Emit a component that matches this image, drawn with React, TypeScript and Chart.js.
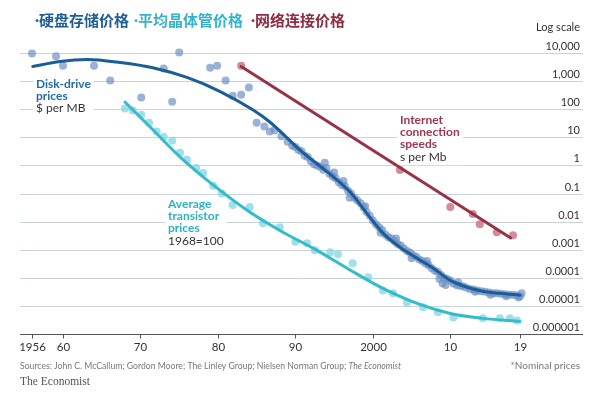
import { useEffect, useRef } from "react";
import { Chart, registerables } from "chart.js";
Chart.register(...registerables);

// ---------- DATA ----------
// Disk-drive prices, $ per MB (year, value)
const diskDots: [number, number][] = [
  [1956.0, 9600], [1959.1, 7600], [1960.0, 3550], [1964.0, 3550], [1966.1, 1050],
  [1970.1, 260], [1973.0, 2800], [1974.1, 185], [1975.0, 10500], [1979.0, 3000],
  [1979.9, 3550], [1981.0, 1050], [1981.9, 300], [1983.0, 330], [1984.0, 590],
  [1985.0, 33], [1986.0, 24], [1986.7, 16], [1987.3, 18], [1988.2, 11],
  [1989.0, 7], [1989.6, 5], [1990.0, 4.5], [1990.4, 3.5], [1990.8, 3.2],
  [1991.2, 2.2], [1991.6, 2], [1992.0, 1.4], [1992.4, 1.1], [1992.8, 1],
  [1993.2, 0.9], [1993.6, 0.7], [1994.0, 0.8], [1994.4, 0.5], [1994.8, 0.4],
  [1995.2, 0.35], [1995.6, 0.25], [1996.0, 0.2], [1996.4, 0.18], [1996.8, 0.125],
  [1997.2, 0.1], [1997.6, 0.07], [1998.0, 0.056], [1998.4, 0.045], [1998.8, 0.032],
  [1999.2, 0.022], [1999.6, 0.016], [2000.0, 0.011], [2000.4, 0.008], [2000.8, 0.0063],
  [2001.2, 0.005], [2001.6, 0.0035], [2002.0, 0.0028], [2002.4, 0.0025], [2002.8, 0.002],
  [2003.2, 0.0016], [2003.6, 0.0014], [2004.0, 0.0011], [2004.4, 0.0009], [2004.8, 0.0008],
  [2005.2, 0.00063], [2005.6, 0.00056], [2006.0, 0.00045], [2006.4, 0.0004], [2006.8, 0.00032],
  [2007.2, 0.00028], [2007.6, 0.00022], [2008.0, 0.00018], [2008.4, 0.00016], [2008.8, 0.000125],
  [2009.2, 0.0001], [2009.6, 0.00009], [2010.0, 0.00008], [2010.4, 0.000063], [2010.8, 0.000056],
  [2011.2, 0.000052], [2011.6, 0.00005], [2012.0, 0.000045], [2012.5, 0.00004], [2013.0, 0.000038],
  [2013.5, 0.000035], [2014.0, 0.000033], [2014.5, 0.000032], [2015.0, 0.00003], [2015.5, 0.000028],
  [2016.0, 0.000028], [2016.5, 0.000027], [2017.0, 0.000026], [2017.5, 0.000025], [2018.0, 0.000025],
  [2018.5, 0.000024], [2019.0, 0.000022],
  [1993.8, 1.25], [1995.0, 0.56], [1996.2, 0.28], [1997.0, 0.07], [1999.0, 0.035],
  [2001.0, 0.004], [2003.0, 0.0025], [2005.0, 0.0005], [2007.0, 0.0004], [2008.6, 0.00009],
  [2009.0, 0.000063], [2009.4, 0.000056], [2011.0, 0.00007], [2013.2, 0.000032], [2015.2, 0.000025],
  [2017.2, 0.000022], [2018.8, 0.00002], [2019.2, 0.000028],
];
const diskTrend: [number, number][] = [
  [1956.1, 3300], [1959.6, 5000], [1963.1, 5900], [1967.4, 4600], [1971.6, 3000],
  [1976.0, 1350], [1980.3, 425], [1984.5, 95], [1986.7, 35], [1990.6, 3.5],
  [1994.9, 0.39], [1997.1, 0.11], [1999.2, 0.02], [2001.3, 0.0039], [2003.5, 0.00123],
  [2005.7, 0.0005], [2007.8, 0.00022], [2010.0, 0.000081], [2012.2, 0.000046], [2014.2, 0.000033],
  [2016.4, 0.000028], [2019.0, 0.000024],
];

// Average transistor prices, 1968=100
const transistorDots: [number, number][] = [
  [1968.0, 105], [1969.0, 89], [1970.1, 63], [1971.1, 33], [1972.1, 16],
  [1973.0, 10.5], [1974.1, 7.6], [1975.1, 2.8], [1976.0, 1.6], [1977.2, 0.81],
  [1978.1, 0.54], [1979.4, 0.19], [1980.5, 0.1], [1981.9, 0.039], [1984.1, 0.033],
  [1985.8, 0.0087], [1988.0, 0.0063], [1990.0, 0.0019], [1991.5, 0.0017], [1992.5, 0.00095],
  [1994.5, 0.00081], [1995.5, 0.00069], [1997.4, 0.00033], [1999.4, 0.000105], [2001.3, 0.0000355],
  [2002.6, 0.000028], [2004.4, 0.0000132], [2006.5, 0.0000089], [2008.4, 0.0000059], [2010.4, 0.0000039],
  [2014.2, 0.0000036], [2016.4, 0.0000036], [2017.7, 0.0000036], [2018.6, 0.000003],
];
const transistorTrend: [number, number][] = [
  [1968.0, 180], [1971.6, 18.6], [1975.1, 2.0], [1978.6, 0.3], [1984.1, 0.022],
  [1988.4, 0.0042], [1992.8, 0.00095], [1997.1, 0.000186], [2001.3, 0.000042], [2005.7, 0.0000123],
  [2010.0, 0.0000054], [2014.2, 0.0000036], [2019.0, 0.0000028],
];

// Internet connection speeds, s per Mb
const internetDots: [number, number][] = [
  [1983.0, 3550], [2003.5, 0.69], [2010.0, 0.033], [2012.9, 0.0186], [2013.8, 0.0081],
  [2016.0, 0.0042], [2018.1, 0.0033],
];
const internetTrend: [number, number][] = [
  [1983.0, 3300], [2017.8, 0.0026],
];

// Axis ticks
const xTickYears = [1956, 1960, 1970, 1980, 1990, 2000, 2010, 2019];
const xTickLabels = ["1956", "60", "70", "80", "90", "2000", "10", "19"];
const yTickValues = [10000, 1000, 100, 10, 1, 0.1, 0.01, 0.001, 0.0001, 0.00001, 0.000001];
const yTickLabels = ["10,000", "1,000", "100", "10", "1", "0.1", "0.01", "0.001", "0.0001", "0.00001", "0.000001"];

const titleParts = ["硬盘存储价格", "平均晶体管价格", "网络连接价格"];
const sourceText = "Sources: John C. McCallum; Gordon Moore; The Linley Group; Nielsen Norman Group; ";
const sourceItalic = "The Economist";

// ---------- STYLE ----------
const SANS = '"Lato", "Noto Sans", sans-serif';
const DISK_LINE = "#1a5d97";
const DISK_DOT = "rgba(108, 142, 196, 0.68)";
const DISK_TEXT = "#1f6dab";
const TR_LINE = "#34bccd";
const TR_DOT = "rgba(130, 212, 226, 0.75)";
const TR_TEXT = "#2eb2c6";
const NET_LINE = "#983247";
const NET_DOT = "rgba(200, 110, 128, 0.8)";
const NET_TEXT = "#a0384e";
const GRID = "#c8d3dc";

const X_MIN = 1954.45;
const X_MAX = 2027.13;

type Block = { x: number; y: number; lines: string[]; sub: string; color: string };
const blocks: Block[] = [
  { x: 36, y: 84, lines: ["Disk-drive", "prices"], sub: "$ per MB", color: DISK_TEXT },
  { x: 168, y: 204, lines: ["Average", "transistor", "prices"], sub: "1968=100", color: TR_TEXT },
  { x: 400, y: 120, lines: ["Internet", "connection", "speeds"], sub: "s per Mb", color: NET_TEXT },
];
const LH = 12.3;

const decor = {
  id: "decor",
  beforeDatasetsDraw(chart: any) {
    const { ctx, chartArea: a, scales } = chart;
    const y = scales.y;
    ctx.save();
    ctx.strokeStyle = GRID;
    ctx.lineWidth = 1;
    yTickValues.forEach((v) => {
      if (v === 0.000001) return;
      const py = Math.round(y.getPixelForValue(v)) + 0.5;
      ctx.beginPath();
      ctx.moveTo(a.left, py);
      ctx.lineTo(a.right, py);
      ctx.stroke();
    });
    // label backgrounds
    ctx.fillStyle = "#ffffff";
    blocks.forEach((b) => {
      ctx.font = `bold 12px ${SANS}`;
      let w = 0;
      b.lines.forEach((l) => (w = Math.max(w, ctx.measureText(l).width)));
      ctx.font = `12px ${SANS}`;
      w = Math.max(w, ctx.measureText(b.sub).width);
      const h = LH * (b.lines.length + 1);
      ctx.fillRect(b.x - 3, b.y - 8, w + 6, h + 4);
    });
    ctx.restore();
  },
  afterDatasetsDraw(chart: any) {
    const { ctx, chartArea: a, scales } = chart;
    const x = scales.x;
    const y = scales.y;
    ctx.save();
    // x axis line
    const base = Math.round(y.getPixelForValue(0.000001)) + 0.5;
    ctx.strokeStyle = "#555";
    ctx.lineWidth = 1;
    ctx.beginPath();
    ctx.moveTo(a.left, base);
    ctx.lineTo(a.right, base);
    ctx.stroke();
    ctx.fillStyle = "#333";
    ctx.font = `11.5px ${SANS}`;
    ctx.textAlign = "center";
    ctx.textBaseline = "middle";
    xTickYears.forEach((yr, i) => {
      const px = Math.round(x.getPixelForValue(yr)) + 0.5;
      ctx.beginPath();
      ctx.moveTo(px, base);
      ctx.lineTo(px, base + 4);
      ctx.stroke();
      ctx.fillText(xTickLabels[i], px, base + 13);
    });
    // y labels (right, above gridlines)
    ctx.textAlign = "right";
    ctx.textBaseline = "alphabetic";
    ctx.font = `11px ${SANS}`;
    yTickValues.forEach((v, i) => {
      const py = Math.round(y.getPixelForValue(v));
      ctx.fillText(yTickLabels[i], a.right - 3, py - 3);
    });
    ctx.fillText("Log scale", a.right - 3, 31);

    // annotation blocks
    ctx.textAlign = "left";
    ctx.textBaseline = "middle";
    blocks.forEach((b) => {
      ctx.fillStyle = b.color;
      ctx.font = `bold 12px ${SANS}`;
      b.lines.forEach((l, i) => ctx.fillText(l, b.x, b.y + i * LH));
      ctx.fillStyle = "#333";
      ctx.font = `12px ${SANS}`;
      ctx.fillText(b.sub, b.x, b.y + b.lines.length * LH);
    });

    // title
    ctx.textBaseline = "middle";
    const titleColors = ["#1d5e98", "#33b4ca", "#8f2c41"];
    const titleX = [35, 134, 251];
    titleParts.forEach((t, i) => {
      ctx.fillStyle = titleColors[i];
      ctx.font = `bold 15px ${SANS}`;
      ctx.fillText("·", titleX[i], 20);
      ctx.font = `bold 15px "Noto Sans CJK SC", sans-serif`;
      ctx.fillText(t, titleX[i] + 4, 20);
    });

    // sources
    ctx.fillStyle = "#777";
    ctx.font = `10px ${SANS}`;
    const w1 = ctx.measureText(sourceText).width;
    ctx.font = `italic 10px ${SANS}`;
    const w2 = ctx.measureText(sourceItalic).width;
    const sc = Math.min(1, 381 / (w1 + w2));
    ctx.save();
    ctx.translate(20, 366);
    ctx.scale(sc, 1);
    ctx.font = `10px ${SANS}`;
    ctx.fillText(sourceText, 0, 0);
    ctx.font = `italic 10px ${SANS}`;
    ctx.fillText(sourceItalic, w1, 0);
    ctx.restore();
    ctx.font = `10px ${SANS}`;
    ctx.textAlign = "right";
    ctx.fillText("*Nominal prices", 580, 366);
    ctx.textAlign = "left";
    ctx.fillStyle = "#555";
    ctx.font = `11.5px "Liberation Serif", "DejaVu Serif", serif`;
    ctx.fillText("The Economist", 20, 382);
    ctx.restore();
  },
};

const toXY = (arr: [number, number][]) => arr.map(([x, y]) => ({ x, y }));

export default function App() {
  const ref = useRef<HTMLCanvasElement>(null);
  useEffect(() => {
    const canvas = ref.current!;
    const dot = (data: [number, number][], color: string, order: number) => ({
      type: "scatter" as const,
      data: toXY(data),
      backgroundColor: color,
      borderWidth: 0,
      pointRadius: 4,
      showLine: false,
      order,
      clip: false as const,
    });
    const line = (data: [number, number][], color: string, order: number) => ({
      type: "line" as const,
      data: toXY(data),
      borderColor: color,
      borderWidth: 3,
      pointRadius: 0,
      fill: false,
      cubicInterpolationMode: "monotone" as const,
      order,
      clip: false as const,
      borderCapStyle: "round" as const,
    });
    const chart = new Chart(canvas, {
      type: "scatter",
      data: {
        datasets: [
          line(diskTrend, DISK_LINE, 0),
          line(transistorTrend, TR_LINE, 1),
          line(internetTrend, NET_LINE, 2),
          dot(diskDots, DISK_DOT, 5),
          dot(transistorDots, TR_DOT, 6),
          dot(internetDots, NET_DOT, 4),
        ] as any,
      },
      options: {
        responsive: false,
        animation: false,
        devicePixelRatio: 1,
        events: [],
        layout: { padding: { left: 20, right: 24, top: 53, bottom: 60 } },
        plugins: { legend: { display: false }, tooltip: { enabled: false } },
        scales: {
          x: { type: "linear", min: X_MIN, max: X_MAX, display: false },
          y: { type: "logarithmic", min: 0.000001, max: 10000, display: false },
        },
      },
      plugins: [decor],
    });
    return () => chart.destroy();
  }, []);
  return (
    <div style={{ position: "fixed", left: 0, top: 0, width: 607, height: 394, background: "#fff" }}>
      <canvas ref={ref} width={607} height={394} style={{ display: "block", width: 607, height: 394 }} />
    </div>
  );
}
